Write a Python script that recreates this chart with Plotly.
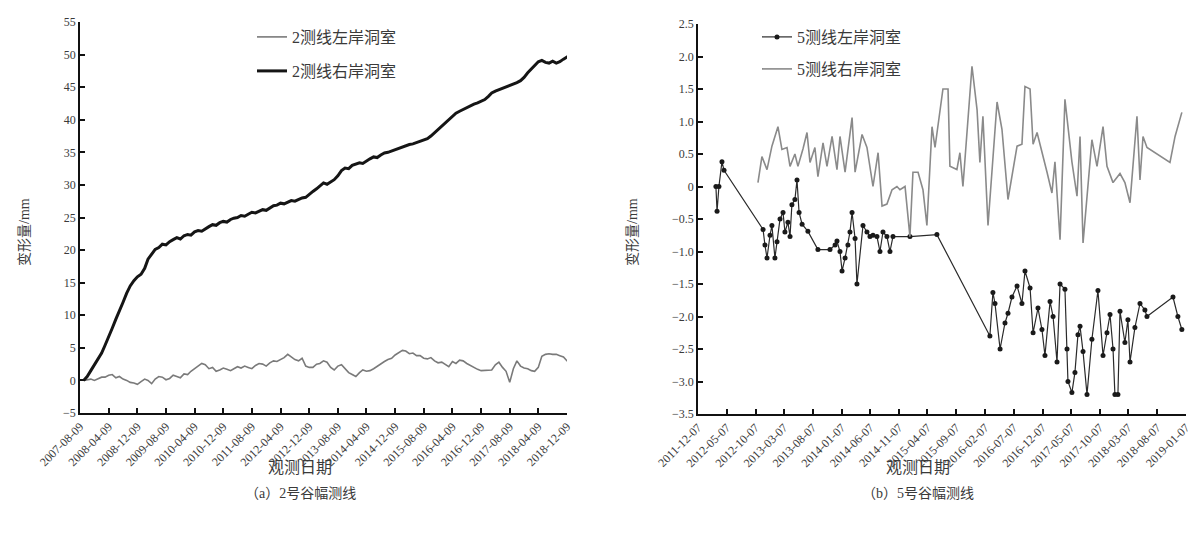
import plotly.graph_objects as go
import pandas as pd

W, H = 1197, 542

# ---------------- data: (a) line 2 (monthly readings from 2007-08-09) ----------------
line2_start = "2007-08-09"
line2_right = [0, 0.6, 1.5, 2.4, 3.3, 4.2, 5.4, 6.6, 8.0, 9.4, 10.6, 12.0, 13.4, 14.5, 15.3, 15.9, 16.3,
               17.2, 18.6, 19.4, 20.1, 20.4, 20.9, 20.8, 21.3,
               21.6, 21.9, 21.7, 22.2, 22.4, 22.3, 22.8, 23.0, 22.9, 23.3,
               23.6, 23.9, 23.8, 24.2, 24.4, 24.3, 24.7, 24.9, 25.0,
               25.3, 25.2, 25.5, 25.8, 25.7, 26.0, 26.2, 26.1, 26.5,
               26.8, 26.9, 27.2, 27.1, 27.4, 27.6, 27.5, 27.8, 28.0, 28.1,
               28.6, 29.0, 29.4, 29.8, 30.3, 30.1, 30.5, 30.8, 31.4, 32.2,
               32.6, 32.5, 33.0, 33.2, 33.4, 33.3, 33.7, 34.0,
               34.3, 34.2, 34.6, 34.9, 35.0, 35.2, 35.4, 35.6,
               35.9, 36.0, 36.2, 36.3, 36.5, 36.6, 36.8, 37.1,
               37.5, 38.0, 38.6, 39.0, 39.5, 40.1, 40.5, 41.0,
               41.3, 41.6, 41.9, 42.1, 42.4, 42.6, 42.8, 43.1,
               43.6, 44.1, 44.4, 44.6, 44.8, 45.0, 45.3, 45.5,
               45.7, 46.0, 46.5, 47.2, 47.8, 48.4, 48.9, 49.1,
               48.8, 48.7, 49.0, 48.7, 48.9, 49.3, 49.6, 50.0]
line2_left = [0, 0.1, 0.2, 0.0, 0.3, 0.5, 0.5, 0.8, 0.9, 0.4, 0.6, 0.2, 0.0, -0.3, -0.4, -0.6, -0.2,
              0.2, 0.0, -0.5, 0.2, 0.6, 0.5, 0.1, 0.3,
              0.8, 0.6, 0.4, 1.0, 0.9, 1.4, 1.8, 2.2, 2.6, 2.4,
              1.8, 2.0, 1.4, 1.6, 1.9, 1.7, 1.5, 1.8, 2.1,
              1.9, 2.2, 2.0, 1.8, 2.3, 2.6, 2.5, 2.2, 2.7,
              3.0, 2.9, 3.2, 3.5, 4.0, 3.6, 3.2, 3.0, 3.4, 2.2,
              2.0, 2.0, 2.5, 2.6, 3.0, 2.8, 2.0, 1.6, 2.2, 2.4,
              1.8, 1.2, 0.9, 0.6, 1.2, 1.6, 1.4, 1.5,
              1.8, 2.2, 2.6, 2.9, 3.2, 3.4, 3.9, 4.2,
              4.6, 4.5, 4.1, 4.2, 3.8, 3.8, 3.4, 3.3,
              3.5, 3.0, 2.7, 2.8, 2.4, 2.1, 2.9, 2.6,
              3.1, 3.0, 2.6, 2.3, 1.9, 1.7, 1.5, 1.5,
              1.6, 1.6, 2.4, 2.8, 2.0, 1.4, -0.3, 1.8,
              3.0, 2.2, 1.9, 1.8, 1.5, 1.4, 2.0, 3.7,
              4.0, 4.1, 4.0, 4.0, 3.8, 3.6, 3.0, 2.8]
line2_dates = pd.date_range(line2_start, periods=len(line2_right), freq="MS") + pd.Timedelta(days=8)

line2_ticks = ["2007-08-09", "2008-04-09", "2008-12-09", "2009-08-09", "2010-04-09", "2010-12-09",
               "2011-08-09", "2012-04-09", "2012-12-09", "2013-08-09", "2014-04-09", "2014-12-09",
               "2015-08-09", "2016-04-09", "2016-12-09", "2017-08-09", "2018-04-09", "2018-12-09"]
y2_ticks = [55, 50, 45, 40, 35, 30, 25, 20, 15, 10, 5, 0, -5]

# ---------------- data: (b) line 5 ----------------
line5_left_dates = ["2012-03-11", "2012-03-17", "2012-03-27", "2012-04-12", "2012-04-23", "2012-11-16",
                    "2012-11-26", "2012-12-07", "2012-12-23", "2013-01-02", "2013-01-18", "2013-01-29",
                    "2013-02-14", "2013-03-02", "2013-03-12", "2013-03-28", "2013-04-08", "2013-04-18",
                    "2013-05-04", "2013-05-15", "2013-05-26", "2013-06-11", "2013-07-12", "2013-09-03",
                    "2013-11-06", "2013-12-03", "2013-12-13", "2013-12-29", "2014-01-09", "2014-01-25",
                    "2014-02-09", "2014-02-20", "2014-03-03", "2014-03-19", "2014-03-29", "2014-04-30",
                    "2014-05-21", "2014-06-06", "2014-06-22", "2014-07-13", "2014-07-29", "2014-08-14",
                    "2014-09-04", "2014-09-20", "2014-10-06", "2015-01-04", "2015-05-27", "2016-03-03",
                    "2016-03-19", "2016-03-30", "2016-04-26", "2016-05-22", "2016-06-07", "2016-06-28",
                    "2016-07-25", "2016-08-20", "2016-09-05", "2016-10-02", "2016-10-18", "2016-11-13",
                    "2016-12-04", "2016-12-20", "2017-01-16", "2017-02-01", "2017-02-22", "2017-03-10",
                    "2017-04-05", "2017-04-16", "2017-04-21", "2017-05-12", "2017-05-28", "2017-06-13",
                    "2017-06-24", "2017-07-10", "2017-07-31", "2017-08-26", "2017-09-27", "2017-10-24",
                    "2017-11-14", "2017-11-30", "2017-12-16", "2017-12-26", "2018-01-11", "2018-01-22",
                    "2018-02-17", "2018-03-05", "2018-03-16", "2018-04-11", "2018-05-08", "2018-06-03",
                    "2018-06-14", "2018-10-30", "2018-11-25", "2018-12-16"]
line5_left = [0.0, -0.38, 0.0, 0.38, 0.25, -0.66,
              -0.9, -1.1, -0.75, -0.6, -1.1, -0.85,
              -0.5, -0.4, -0.7, -0.55, -0.77, -0.28,
              -0.2, 0.1, -0.4, -0.58, -0.69, -0.97,
              -0.97, -0.9, -0.84, -1.0, -1.3, -1.1,
              -0.9, -0.7, -0.4, -0.8, -1.5, -0.6,
              -0.7, -0.77, -0.75, -0.77, -1.0, -0.7,
              -0.77, -1.0, -0.77, -0.77, -0.74, -2.3,
              -1.63, -1.8, -2.5, -2.1, -1.95, -1.7,
              -1.53, -1.8, -1.3, -1.56, -2.25, -1.87,
              -2.2, -2.6, -1.77, -2.0, -2.7, -1.5,
              -1.58, -2.5, -3.0, -3.17, -2.86, -2.28,
              -2.15, -2.54, -3.2, -2.35, -1.6, -2.6,
              -2.25, -1.97, -2.5, -3.2, -3.2, -1.92,
              -2.4, -2.05, -2.7, -2.17, -1.8, -1.9,
              -2.0, -1.7, -2.0, -2.2]

line5_right_dates = ["2012-10-20", "2012-11-10", "2012-12-07", "2013-01-02", "2013-02-03", "2013-02-24",
                     "2013-03-23", "2013-04-08", "2013-05-04", "2013-05-20", "2013-06-16", "2013-07-07",
                     "2013-07-23", "2013-08-18", "2013-09-03", "2013-09-30", "2013-10-21", "2013-11-17",
                     "2013-12-13", "2013-12-29", "2014-01-25", "2014-03-03", "2014-03-19", "2014-04-25",
                     "2014-05-21", "2014-06-22", "2014-07-19", "2014-08-09", "2014-09-04", "2014-10-01",
                     "2014-10-27", "2014-11-12", "2014-12-09", "2015-01-04", "2015-01-20", "2015-02-16",
                     "2015-03-14", "2015-04-04", "2015-05-01", "2015-05-17", "2015-06-28", "2015-07-25",
                     "2015-08-04", "2015-09-10", "2015-09-26", "2015-10-12", "2015-11-29", "2015-12-26",
                     "2016-01-10", "2016-01-26", "2016-02-22", "2016-03-19", "2016-04-10", "2016-05-06",
                     "2016-06-07", "2016-07-25", "2016-08-20", "2016-09-05", "2016-10-02", "2016-10-18",
                     "2016-11-08", "2016-12-31", "2017-01-26", "2017-02-11", "2017-03-10", "2017-04-05",
                     "2017-05-12", "2017-06-08", "2017-06-24", "2017-07-10", "2017-08-26", "2017-09-22",
                     "2017-10-24", "2017-11-14", "2017-12-16", "2018-01-22", "2018-02-17", "2018-03-16",
                     "2018-04-22", "2018-05-08", "2018-05-24", "2018-06-14", "2018-10-14", "2018-11-10",
                     "2018-12-16"]
line5_right = [0.06, 0.46, 0.26, 0.62, 0.92, 0.57,
               0.6, 0.31, 0.5, 0.31, 0.58, 0.83,
               0.37, 0.6, 0.15, 0.67, 0.31, 0.77,
               0.26, 0.77, 0.22, 1.06, 0.22, 0.8,
               0.6, 0.0, 0.52, -0.3, -0.27, -0.05,
               0.0, -0.05, 0.0, -0.77, 0.22, 0.22,
               -0.05, -0.6, 0.92, 0.6, 1.5, 1.5,
               0.31, 0.26, 0.52, 0.0, 1.85, 1.18,
               0.37, 1.08, -0.6, 0.46, 1.3, 0.88,
               -0.2, 0.62, 0.65, 1.54, 1.5, 0.65,
               0.83, 0.22, -0.1, 0.38, -0.82, 1.34,
               0.38, -0.15, 0.77, -0.87, 0.72, 0.31,
               0.92, 0.31, 0.06, 0.2, 0.06, -0.25,
               1.08, 0.1, 0.77, 0.6, 0.37, 0.77,
               1.14]

line5_ticks = ["2011-12-07", "2012-05-07", "2012-10-07", "2013-03-07", "2013-08-07", "2014-01-07",
               "2014-06-07", "2014-11-07", "2015-04-07", "2015-09-07", "2016-02-07", "2016-07-07",
               "2016-12-07", "2017-05-07", "2017-10-07", "2018-03-07", "2018-08-07", "2019-01-07"]
y5_ticks = [2.5, 2.0, 1.5, 1.0, 0.5, 0, -0.5, -1.0, -1.5, -2.0, -2.5, -3.0, -3.5]

names = ["2测线左岸洞室", "2测线右岸洞室", "5测线左岸洞室", "5测线右岸洞室"]


def fmt(v, dec):
    if v == 0:
        return "0"
    s = f"{abs(v):.{dec}f}"
    return ("−" + s) if v < 0 else s


def px(x):
    return x / W


def py(y):
    return 1 - y / H


FONT = "Liberation Serif, Noto Sans CJK SC, serif"
TXT = "#3a3a3a"

fig = go.Figure()
fig.add_trace(go.Scatter(x=line2_dates, y=line2_left, name=names[0], mode="lines",
                         line=dict(color="#7a7a7a", width=1.6), xaxis="x", yaxis="y",
                         legend="legend", showlegend=True))
fig.add_trace(go.Scatter(x=line2_dates, y=line2_right, name=names[1], mode="lines",
                         line=dict(color="#151515", width=3), xaxis="x", yaxis="y",
                         legend="legend2", showlegend=True))
fig.add_trace(go.Scatter(x=line5_left_dates, y=line5_left, name=names[2], mode="lines+markers",
                         line=dict(color="#2a2a2a", width=1.2), marker=dict(color="#1a1a1a", size=5),
                         xaxis="x2", yaxis="y2", legend="legend3", showlegend=True))
fig.add_trace(go.Scatter(x=line5_right_dates, y=line5_right, name=names[3], mode="lines",
                         line=dict(color="#8a8a8a", width=1.6), xaxis="x2", yaxis="y2",
                         legend="legend4", showlegend=True))

axis_common = dict(showline=True, linecolor="#111", linewidth=1.5, ticks="inside", ticklen=5,
                   tickcolor="#111", tickwidth=1.5, showgrid=False, zeroline=False, automargin=False,
                   tickfont=dict(family=FONT, size=12, color=TXT))

fig.update_layout(
    width=W, height=H, margin=dict(l=0, r=0, t=0, b=0, autoexpand=False),
    showlegend=True,
    paper_bgcolor="white", plot_bgcolor="white",
    font=dict(family=FONT, color=TXT),
    xaxis=dict(domain=[px(80), px(567)], anchor="y", type="date",
               range=[line2_ticks[0], line2_ticks[-1]],
               tickvals=line2_ticks, ticktext=line2_ticks, tickangle=-45, **axis_common),
    yaxis=dict(domain=[py(413), py(22)], anchor="x", range=[-5, 55],
               tickvals=y2_ticks, ticktext=[fmt(v, 0) for v in y2_ticks], **axis_common),
    xaxis2=dict(domain=[px(698), px(1186)], anchor="y2", type="date",
                range=[line5_ticks[0], line5_ticks[-1]],
                tickvals=line5_ticks, ticktext=line5_ticks, tickangle=-45, **axis_common),
    yaxis2=dict(domain=[py(414), py(24)], anchor="x2", range=[-3.5, 2.5],
                tickvals=y5_ticks, ticktext=[fmt(v, 1) for v in y5_ticks], **axis_common),
)

leg = dict(bgcolor="rgba(0,0,0,0)", font=dict(family=FONT, size=16, color=TXT),
           xanchor="left", yanchor="middle", itemwidth=30)
fig.update_layout(
    legend=dict(x=px(252), y=py(37), **leg),
    legend2=dict(x=px(252), y=py(71), **leg),
    legend3=dict(x=px(757), y=py(37), **leg),
    legend4=dict(x=px(757), y=py(69), **leg),
)

annots = [
    dict(x=px(24), y=py(232), text="变形量/mm", textangle=-90, size=14),
    dict(x=px(632), y=py(232), text="变形量/mm", textangle=-90, size=14),
    dict(x=px(300), y=py(467), text="观测日期", textangle=0, size=16),
    dict(x=px(918), y=py(467), text="观测日期", textangle=0, size=16),
    dict(x=px(300), y=py(493), text="（a）2号谷幅测线", textangle=0, size=14),
    dict(x=px(918), y=py(493), text="（b）5号谷幅测线", textangle=0, size=14),
]
for a in annots:
    fig.add_annotation(x=a["x"], y=a["y"], xref="paper", yref="paper", text=a["text"],
                       textangle=a["textangle"], showarrow=False, xanchor="center", yanchor="middle",
                       font=dict(family=FONT, size=a["size"], color=TXT))

fig.write_html("out.html")
